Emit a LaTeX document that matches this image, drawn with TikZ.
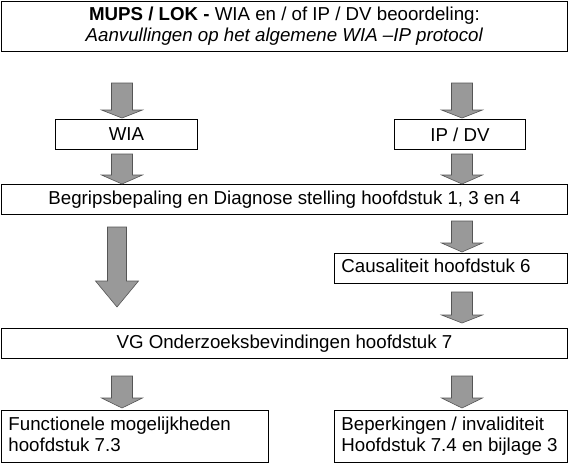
\documentclass[tikz,border=0pt]{standalone}
\usepackage{fontspec}
\setmainfont{Liberation Sans}
\definecolor{arrowgray}{HTML}{999999}
\definecolor{arrowedge}{HTML}{555555}
\newcommand{\blockarr}[6]{%
  \draw[barrow] (#1-#5,#2) -- (#1+#5,#2) -- (#1+#5,#3) -- (#1+#6,#3) -- (#1,#4) -- (#1-#6,#3) -- (#1-#5,#3) -- cycle;}
\newcommand{\lefttext}[2]{\makebox[#1][l]{\begin{tabular}{@{}l@{}}#2\end{tabular}}}
\begin{document}
\begin{tikzpicture}[x=1pt,y=-1pt,
  box/.style={draw=black, line width=0.9pt, inner sep=0pt, anchor=north west,
    font=\fontsize{18.7}{21}\selectfont},
  lbox/.style={box, inner xsep=7pt},
  barrow/.style={fill=arrowgray, draw=arrowedge, line width=0.6pt, line join=miter}]
\useasboundingbox (0,0) rectangle (568,464);
% boxes
\node[box, minimum width=566pt, minimum height=50pt, align=center] (head) at (1,1)
  {\textbf{MUPS / LOK -} WIA en / of IP / DV beoordeling:\\ \textit{Aanvullingen op het algemene WIA –IP protocol}};
\node[box, minimum width=142pt, minimum height=30pt] (wia) at (55,119) {WIA};
\node[box, minimum width=131pt, minimum height=30pt] (ipdv) at (394,119) {IP / DV};
\node[box, minimum width=566pt, minimum height=30pt] (begr) at (1,184) {Begripsbepaling en Diagnose stelling hoofdstuk 1, 3 en 4};
\node[lbox, minimum height=30pt] (caus) at (334,253) {\lefttext{219pt}{Causaliteit hoofdstuk 6}};
\node[box, minimum width=566pt, minimum height=30pt] (vg) at (1,328) {VG Onderzoeksbevindingen hoofdstuk 7};
\node[lbox, minimum height=52pt] (func) at (1,410) {\lefttext{253pt}{Functionele mogelijkheden\\hoofdstuk 7.3}};
\node[lbox, minimum height=52pt] (bep) at (334,410) {\lefttext{219pt}{Beperkingen / invaliditeit\\Hoofdstuk 7.4 en bijlage 3}};
% block arrows
\blockarr{122}{83}{110}{118}{10.5}{20.5}
\blockarr{462}{83}{110}{118}{10.5}{20.5}
\blockarr{122}{154}{175}{184}{10.5}{20.5}
\blockarr{462}{154}{175}{184}{10.5}{20.5}
\blockarr{117}{227}{281}{307}{9.5}{21.5}
\blockarr{462}{221}{243}{252}{10.5}{20.5}
\blockarr{462}{292}{315}{323}{10.5}{20.5}
\blockarr{122}{376}{398}{408}{10.5}{20.5}
\blockarr{462}{376}{398}{408}{10.5}{20.5}
\end{tikzpicture}
\end{document}
